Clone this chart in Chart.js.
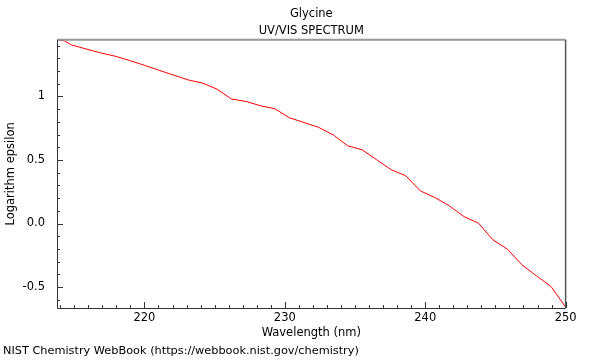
<!DOCTYPE html>
<html>
<head>
<meta charset="utf-8">
<script src="https://cdn.jsdelivr.net/npm/chart.js@4/dist/chart.umd.min.js"></script>
<style>
  body { margin: 0; background: #fff; }
  #wrap { width: 600px; height: 360px; }
</style>
</head>
<body>
<div id="wrap"><canvas id="spectrum" width="600" height="360"></canvas></div>
<script>
        // Glycine UV/VIS spectrum
        const wavelength = [213.77, 214.30, 214.81, 215.84, 216.88, 217.91, 218.95, 219.98, 221.02, 222.05,
                            223.09, 224.12, 225.16, 226.19, 227.23, 228.26, 229.30, 230.33, 231.37, 232.40,
                            233.44, 234.47, 235.51, 236.54, 237.58, 238.61, 239.65, 240.68, 241.72, 242.75,
                            243.79, 244.82, 245.86, 246.89, 247.93, 248.96, 250.00];
        const logEpsilon = [1.446, 1.438, 1.405, 1.374, 1.343, 1.317, 1.283, 1.246, 1.207, 1.169,
                            1.131, 1.106, 1.058, 0.980, 0.961, 0.927, 0.903, 0.832, 0.795, 0.757,
                            0.698, 0.612, 0.580, 0.502, 0.423, 0.376, 0.257, 0.205, 0.139, 0.055,
                            0.003, -0.128, -0.202, -0.325, -0.412, -0.496, -0.658];

        const xTickValues = [220, 230, 240, 250];
        const xTickLabels = ['220', '230', '240', '250'];
        const yTickValues = [-0.5, 0, 0.5, 1];
        const yTickLabels = ['-0.5', '0.0', '0.5', '1'];

        const xMinorStep = 1;
        const yMinorStep = 0.1;

        Chart.defaults.font.family = "'DejaVu Sans', sans-serif";
        Chart.defaults.font.size = 11.5;
        Chart.defaults.color = '#000';

        // frame with inward ticks + footer text
        const framePlugin = {
            id: 'frame',
            afterDatasetsDraw(chart) {
                const ctx = chart.ctx;
                const a = chart.chartArea;
                const x = chart.scales.x;
                const y = chart.scales.y;
                ctx.save();

                ctx.strokeStyle = '#999';
                ctx.lineWidth = 2;
                ctx.beginPath();
                ctx.moveTo(a.left, a.top);
                ctx.lineTo(a.right, a.top);
                ctx.stroke();

                ctx.strokeStyle = '#555';
                ctx.lineWidth = 1.5;
                ctx.beginPath();
                ctx.moveTo(a.right, a.top);
                ctx.lineTo(a.right, a.bottom);
                ctx.stroke();

                ctx.strokeStyle = '#333';
                ctx.lineWidth = 1;
                ctx.beginPath();
                ctx.moveTo(a.left + 0.5, a.top);
                ctx.lineTo(a.left + 0.5, a.bottom + 0.5);
                ctx.lineTo(a.right, a.bottom + 0.5);
                ctx.stroke();

                ctx.beginPath();
                for (let v = Math.ceil(x.min); v <= x.max; v += xMinorStep) {
                    const px = Math.round(x.getPixelForValue(v)) + 0.5;
                    const len = xTickValues.includes(v) ? 6 : 3;
                    ctx.moveTo(px, a.bottom);
                    ctx.lineTo(px, a.bottom - len);
                }
                for (let i = Math.ceil(y.min / yMinorStep); i * yMinorStep <= y.max; i++) {
                    const v = Math.round(i * yMinorStep * 10) / 10;
                    const py = Math.round(y.getPixelForValue(v)) + 0.5;
                    const len = yTickValues.includes(v) ? 6 : 3;
                    ctx.moveTo(a.left, py);
                    ctx.lineTo(a.left + len, py);
                }
                ctx.stroke();

                ctx.fillStyle = '#000';
                ctx.font = "11.3px 'DejaVu Sans', sans-serif";
                ctx.textBaseline = 'middle';
                ctx.textAlign = 'left';
                ctx.fillText('NIST Chemistry WebBook (https://webbook.nist.gov/chemistry)', 3, 351);
                ctx.restore();
            }
        };

        const ctx = document.getElementById('spectrum').getContext('2d');
        const spectrumChart = new Chart(ctx, {
            type: 'line',
            data: {
                datasets: [{
                    label: 'Glycine',
                    data: wavelength.map((w, i) => ({ x: w, y: logEpsilon[i] })),
                    borderColor: '#ff0000',
                    borderWidth: 1,
                    pointRadius: 0,
                    tension: 0,
                    fill: false
                }]
            },
            options: {
                responsive: false,
                animation: false,
                layout: { padding: { left: 0, right: 34.4, top: 0, bottom: 17.3 } },
                plugins: {
                    legend: { display: false },
                    tooltip: { enabled: false },
                    title: {
                        display: true,
                        text: 'Glycine',
                        fullSize: false,
                        font: { size: 11.5, weight: 'normal' },
                        padding: { top: 7.2, bottom: 0 }
                    },
                    subtitle: {
                        display: true,
                        text: 'UV/VIS SPECTRUM',
                        fullSize: false,
                        font: { size: 11.5 },
                        padding: { top: 3.4, bottom: 1.6 }
                    }
                },
                scales: {
                    x: {
                        type: 'linear',
                        min: 213.77,
                        max: 250,
                        grid: { display: false },
                        border: { display: false },
                        afterBuildTicks: (scale) => { scale.ticks = xTickValues.map(v => ({ value: v })); },
                        afterFit: (scale) => { scale.height = 34.7; },
                        ticks: {
                            padding: -5,
                            maxRotation: 0,
                            callback: (value) => xTickLabels[xTickValues.indexOf(value)]
                        },
                        title: { display: true, text: 'Wavelength (nm)', padding: { top: 0, bottom: 3 } }
                    },
                    y: {
                        min: -0.665,
                        max: 1.446,
                        grid: { display: false },
                        border: { display: false },
                        afterBuildTicks: (scale) => { scale.ticks = yTickValues.map(v => ({ value: v })); },
                        afterFit: (scale) => { scale.width = 57; },
                        ticks: {
                            padding: 4,
                            callback: (value) => yTickLabels[yTickValues.indexOf(value)]
                        },
                        title: { display: true, text: 'Logarithm epsilon', padding: { top: 4, bottom: 0 } }
                    }
                }
            },
            plugins: [framePlugin]
        });
</script>
</body>
</html>
